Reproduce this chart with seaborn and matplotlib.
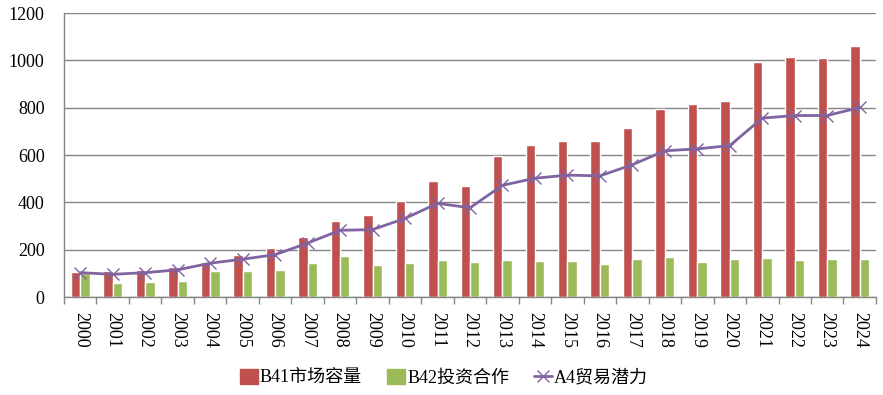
import numpy as np
import pandas as pd
import seaborn as sns
import matplotlib.pyplot as plt
from matplotlib.patches import Patch
from matplotlib.lines import Line2D

years = [str(y) for y in range(2000, 2025)]
market = [104, 108, 115, 129, 150, 176, 206, 255, 320, 345, 404, 489, 468, 596,
          642, 660, 660, 715, 796, 817, 830, 991, 1013, 1009, 1060]
invest = [100, 61, 65, 69, 108, 112, 116, 145, 174, 136, 145, 157, 149, 157,
          153, 153, 140, 162, 170, 149, 162, 166, 157, 162, 162]
trade = [103, 96, 103, 115, 143, 160, 179, 228, 282, 285, 332, 396, 377, 472,
         502, 515, 512, 559, 618, 626, 640, 756, 767, 767, 801]

labels = ["B41市场容量", "B42投资合作", "A4贸易潜力"]
RED, GREEN, PURPLE = "#C0504D", "#9BBB59", "#8064A2"

df = pd.DataFrame({
    "year": years * 2,
    "value": market + invest,
    "series": [labels[0]] * len(years) + [labels[1]] * len(years),
})

sns.set_theme(style="white")
plt.rcParams["font.family"] = ["Liberation Serif", "Noto Sans CJK SC"]
plt.rcParams["text.color"] = "black"
plt.rcParams["xtick.color"] = "black"
plt.rcParams["ytick.color"] = "black"

fig = plt.figure(figsize=(8.83, 3.95), dpi=100)
ax = fig.add_axes([0.0725, 0.248, 0.9195, 0.719])

sns.barplot(data=df, x="year", y="value", hue="series", palette=[RED, GREEN],
            width=0.58, saturation=1, ax=ax, legend=False)
sns.lineplot(x=np.arange(len(years)), y=trade, color=PURPLE, linewidth=2,
             marker="x", markersize=9, markeredgewidth=1, markeredgecolor=PURPLE,
             ax=ax, legend=False)

ax.set_xlim(-0.5, len(years) - 0.5)
ax.set_ylim(0, 1200)
ax.set_yticks(range(0, 1201, 200))
ax.yaxis.grid(True, color="#868686", linewidth=1)
ax.set_axisbelow(True)
ax.set_xlabel("")
ax.set_ylabel("")

for s in ["top", "right"]:
    ax.spines[s].set_visible(False)
for s in ["left", "bottom"]:
    ax.spines[s].set_color("#868686")
    ax.spines[s].set_linewidth(1)

ax.set_xticks(np.arange(len(years)))
ax.set_xticklabels(years, rotation=-90, fontsize=13)
ax.set_xticks(np.arange(-0.5, len(years)), minor=True)
ax.tick_params(axis="x", which="major", length=0, pad=11)
ax.tick_params(axis="x", which="minor", length=5, width=1, color="#868686", bottom=True)
ax.tick_params(axis="y", which="major", length=0, labelsize=13, pad=14)

handles = [Patch(color=RED), Patch(color=GREEN),
           Line2D([], [], color=PURPLE, linewidth=2, marker="x", markersize=8)]
fig.legend(handles, labels, loc="center", bbox_to_anchor=(0.503, 0.043), ncol=3,
           frameon=False, fontsize=13, handlelength=1.0, handleheight=0.9,
           handletextpad=0.1, columnspacing=1.4)

fig.savefig("out.png", dpi=100)
